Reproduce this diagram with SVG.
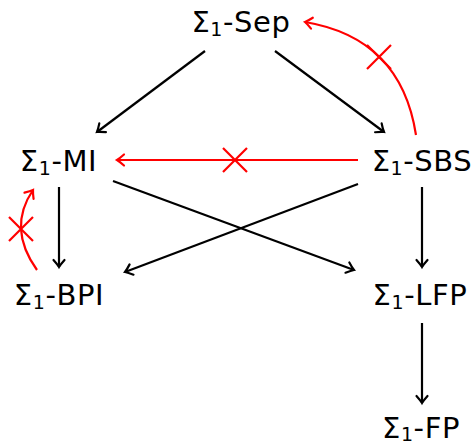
<svg xmlns="http://www.w3.org/2000/svg" width="475" height="446" viewBox="0 0 475 446">
<style>
  text { font-family: "DejaVu Sans", "Liberation Sans", sans-serif; font-size: 29px; fill: #000; text-anchor: middle; letter-spacing: 0.6px; }
  .sub { font-size: 19px; }
  .blk { stroke: #000; stroke-width: 2.2; fill: none; marker-end: url(#ahb); }
  .red { stroke: #ff0000; stroke-width: 2.2; fill: none; marker-end: url(#ahr); }
  .x { stroke: #ff0000; stroke-width: 2.2; fill: none; }
</style>
<defs>
  <marker id="ahb" markerUnits="userSpaceOnUse" markerWidth="20" markerHeight="20" refX="0" refY="0" orient="auto" overflow="visible" viewBox="-10 -10 20 20">
    <path d="M-7,-5.5 Q-2.5,-1.5 0,0 Q-2.5,1.5 -7,5.5" fill="none" stroke="#000" stroke-width="2.2" stroke-linecap="round"/>
  </marker>
  <marker id="ahr" markerUnits="userSpaceOnUse" markerWidth="20" markerHeight="20" refX="0" refY="0" orient="auto" overflow="visible" viewBox="-10 -10 20 20">
    <path d="M-7,-5.5 Q-2.5,-1.5 0,0 Q-2.5,1.5 -7,5.5" fill="none" stroke="#ff0000" stroke-width="2.2" stroke-linecap="round"/>
  </marker>
</defs>

<g id="connectors">
  <line class="blk" x1="205" y1="51" x2="97" y2="132"/>
  <line class="blk" x1="275" y1="51" x2="384" y2="132"/>
  <line class="blk" x1="59" y1="187" x2="59" y2="267"/>
  <line class="blk" x1="113" y1="181" x2="354" y2="270"/>
  <line class="blk" x1="358" y1="184" x2="125" y2="272"/>
  <line class="blk" x1="422" y1="187" x2="422" y2="267"/>
  <line class="blk" x1="422" y1="323" x2="422" y2="403"/>
  <line class="red" x1="358" y1="160" x2="117" y2="160"/>
  <path class="red" d="M416,135 Q401,38 305,22"/>
  <path class="red" d="M37,270 Q7,228 33,190"/>
  <path class="x" d="M223,148 L247,172 M223,172 L247,148"/>
  <path class="x" d="M367,45 L391,69 M367,69 L391,45"/>
  <path class="x" d="M9,217 L33,241 M9,241 L33,217"/>
</g>

<g id="n-sep"><text x="241" y="32">Σ<tspan class="sub" dy="3.5">1</tspan><tspan dy="-3.5">-Sep</tspan></text></g>
<g id="n-mi"><text x="58.5" y="171">Σ<tspan class="sub" dy="3.5">1</tspan><tspan dy="-3.5">-MI</tspan></text></g>
<g id="n-sbs"><text x="422" y="171">Σ<tspan class="sub" dy="3.5">1</tspan><tspan dy="-3.5">-SBS</tspan></text></g>
<g id="n-bpi"><text x="59" y="305">Σ<tspan class="sub" dy="3.5">1</tspan><tspan dy="-3.5">-BPI</tspan></text></g>
<g id="n-lfp"><text x="420" y="305">Σ<tspan class="sub" dy="3.5">1</tspan><tspan dy="-3.5">-LFP</tspan></text></g>
<g id="n-fp"><text x="421" y="438">Σ<tspan class="sub" dy="3">1</tspan><tspan dy="-3">-FP</tspan></text></g>
</svg>
